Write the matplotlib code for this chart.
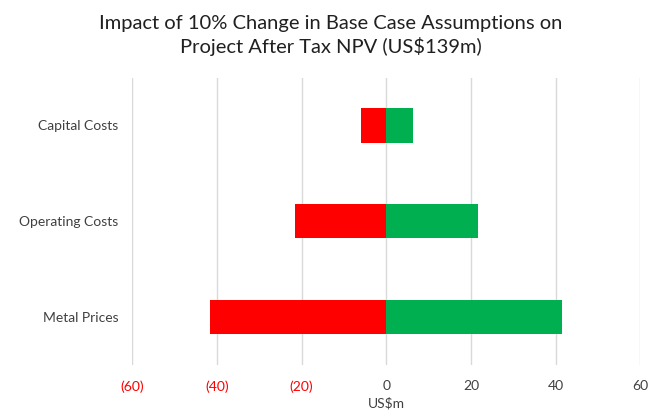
import matplotlib.pyplot as plt

plt.rcParams['font.family'] = ['Lato', 'DejaVu Sans']

categories = ["Capital Costs", "Operating Costs", "Metal Prices"]
downside = [-5.9, -21.6, -41.6]
upside = [6.2, 21.6, 41.6]
ticks = [-60, -40, -20, 0, 20, 40, 60]
tick_labels = ["(60)", "(40)", "(20)", "0", "20", "40", "60"]

fig = plt.figure(figsize=(6.61, 4.17), dpi=100)
ax = fig.add_axes([0.200, 0.125, 0.7687, 0.689])

y = list(range(len(categories)))
ax.barh(y, downside, height=0.36, color="#FF0000", zorder=3)
ax.barh(y, upside, height=0.36, color="#00B050", zorder=3)

ax.set_xlim(-60, 60)
ax.set_ylim(2.5, -0.5)
ax.set_yticks(y)
ax.set_yticklabels(categories, fontsize=10, color="#404040")
ax.set_xticks(ticks)
ax.set_xticklabels(tick_labels, fontsize=10)
for lbl, t in zip(ax.get_xticklabels(), ticks):
    lbl.set_color("#FF0000" if t < 0 else "#404040")
ax.tick_params(length=0)
ax.tick_params(axis="x", pad=11)
ax.tick_params(axis="y", pad=10)
ax.grid(axis="x", color="#D9D9D9", linewidth=1, zorder=0)
for s in ax.spines.values():
    s.set_visible(False)

ax.set_xlabel("US$m", fontsize=10, color="#404040", labelpad=3)
fig.suptitle("Impact of 10% Change in Base Case Assumptions on\nProject After Tax NPV (US$139m)",
             fontsize=14.5, color="#202020", y=0.963, linespacing=1.3)

fig.savefig("out.png", dpi=100)
